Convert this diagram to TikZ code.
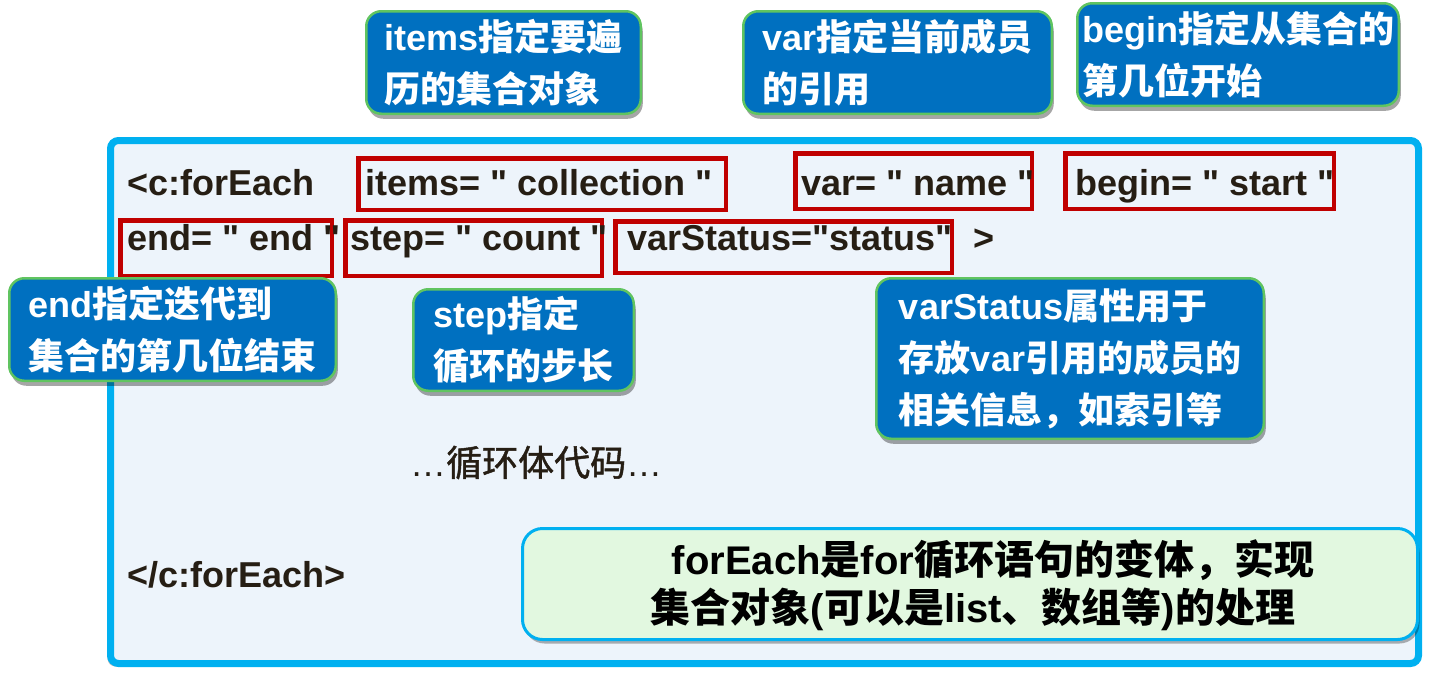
\documentclass[tikz,border=0pt]{standalone}
\usepackage{fontspec}
\newfontfamily\latf{Liberation Sans}
\newfontfamily\cjkf{Noto Sans CJK SC}
\newfontfamily\cjkmed{Noto Sans CJK SC}[FakeBold=1.3]
\newcommand\zh[1]{{\cjkf #1}}
\usetikzlibrary{shadows}
\definecolor{calloutblue}{RGB}{0,112,192}
\definecolor{calloutedge}{RGB}{96,196,96}
\definecolor{mainedge}{RGB}{0,176,240}
\definecolor{mainfill}{RGB}{237,244,251}
\definecolor{redc}{RGB}{192,0,0}
\definecolor{greenfill}{RGB}{226,248,224}
\definecolor{textdark}{RGB}{38,30,20}
\tikzset{
  callout/.style={draw=calloutedge, line width=2.5pt, fill=calloutblue,
    rounded corners=15pt, text=white, align=left, inner sep=0pt,
    font=\latf\bfseries\fontsize{36}{52}\selectfont,
    drop shadow={shadow xshift=2pt, shadow yshift=-5pt, opacity=0.35, fill=black}},
  redbox/.style={draw=redc, line width=4.5pt, inner sep=0pt},
  code/.style={text=textdark, font=\latf\bfseries\fontsize{36}{44}\selectfont, inner sep=0pt, anchor=base west},
  notetext/.style={text=black, font=\latf\bfseries\fontsize{40}{48}\selectfont, inner sep=0pt, anchor=base},
}
\begin{document}
\begin{tikzpicture}[x=1pt,y=-1pt]
\useasboundingbox (0,0) rectangle (1435,678);
% main box
\node[draw=mainedge, line width=7pt, fill=mainfill, rounded corners=8pt,
  minimum width=1308pt, minimum height=523pt, inner sep=0pt,
  drop shadow={shadow xshift=-3pt, shadow yshift=-3pt, opacity=0.25, fill=black}] (main) at (764.5,402) {};
% red boxes
\node[redbox, minimum width=367.5pt, minimum height=51.5pt] (ritems) at (542,184) {};
\node[redbox, minimum width=236.5pt, minimum height=55.5pt] (rvar) at (913.5,181) {};
\node[redbox, minimum width=268.5pt, minimum height=55.5pt] (rbegin) at (1199.5,181) {};
\node[redbox, minimum width=211.5pt, minimum height=55.5pt] (rend) at (226,248) {};
\node[redbox, minimum width=256.5pt, minimum height=55.5pt] (rstep) at (473.5,248) {};
\node[redbox, minimum width=336.5pt, minimum height=51.5pt] (rstatus) at (783.5,247) {};
% code text
\node[code] (t1) at (127,195) {<c:forEach};
\node[code] (t2) at (365,195) {items= " collection "};
\node[code] (t3) at (801,195) {var= " name "};
\node[code] (t4) at (1075,195) {begin= " start "};
\node[code] (t5) at (127,250) {end= " end "};
\node[code] (t6) at (350,250) {step= " count "};
\node[code] (t7) at (627,250) {varStatus="status"};
\node[code] (t8) at (973,250) {>};
\node[code, font=\latf\fontsize{36}{44}\selectfont] (body) at (410,476) {…{\cjkmed 循环体代码}…};
\node[code] (t9) at (127,587) {</c:forEach>};
% callouts
\node[callout, minimum width=274.5pt, minimum height=102.5pt] (citems) at (503.5,62.5)
  {items\zh{指定要遍}\\\zh{历的集合对象}};
\node[callout, minimum width=308.5pt, minimum height=102.5pt] (cvar) at (897.5,62.5)
  {var\zh{指定当前成员}\\\zh{的引用}};
\node[callout, minimum width=321.5pt, minimum height=102.5pt] (cbegin) at (1238,54.5)
  {begin\zh{指定从集合的}\\\zh{第几位开始}};
\node[callout, minimum width=326.5pt, minimum height=102.5pt] (cend) at (172.5,329.5)
  {end\zh{指定迭代到}\\\zh{集合的第几位结束}};
\node[callout, minimum width=220.5pt, minimum height=101.5pt] (cstep) at (523.5,340)
  {step\zh{指定}\\\zh{循环的步长}};
\node[callout, minimum width=387.5pt, minimum height=160.5pt] (cstatus) at (1070,358.5)
  {varStatus\zh{属性用于}\\\zh{存放}var\zh{引用的成员的}\\\zh{相关信息，如索引等}};
% green note
\node[draw=mainedge, line width=3pt, fill=greenfill, rounded corners=20pt,
  minimum width=895pt, minimum height=111pt, inner sep=0pt,
  drop shadow={shadow xshift=2pt, shadow yshift=-4pt, opacity=0.3, fill=black}] (note) at (970,584) {};
\node[notetext] (n1) at (993,574)
  {forEach\zh{是}for\zh{循环语句的变体，实现}};
\node[notetext] (n2) at (973,622)
  {\zh{集合对象}(\zh{可以是}list\zh{、数组等})\zh{的处理}};
\end{tikzpicture}
\end{document}
